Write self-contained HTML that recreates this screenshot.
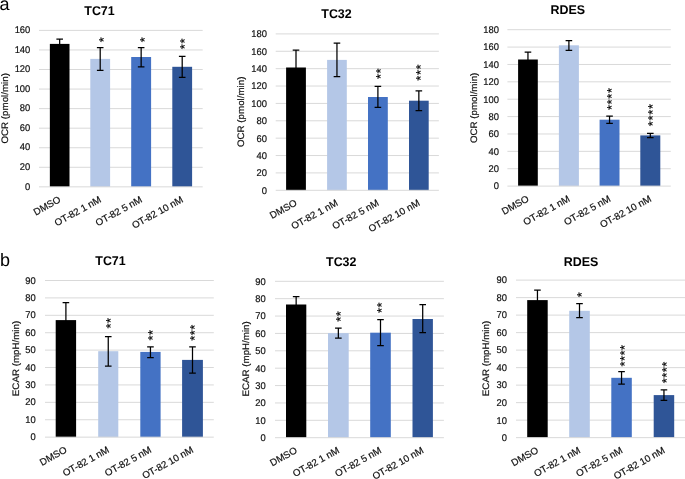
<!DOCTYPE html>
<html lang="en"><head><meta charset="utf-8"><title>OCR and ECAR charts</title>
<style>html,body{margin:0;padding:0;background:#fff;}body{width:685px;height:479px;overflow:hidden;}svg{display:block;}svg{text-rendering:geometricPrecision;}text{font-family:"Liberation Sans",Arial,Helvetica,sans-serif;fill:#111;}.tk{font-size:9.75px;stroke:#111;stroke-width:0.2;}.ax{font-size:9.75px;stroke:#111;stroke-width:0.2;}.tt{font-size:12.7px;font-weight:bold;fill:#000;}.pl{font-size:18px;fill:#000;}.as{font-size:12.8px;fill:#000;stroke:#000;stroke-width:0.2;}.eb{stroke:#000;stroke-width:1.25;fill:none;}.gl{stroke:#D9D9D9;stroke-width:1;}</style></head><body>
<svg width="685" height="479" viewBox="0 0 685 479">
<rect width="685" height="479" fill="#fff"/>
<text class="pl" x="-0.6" y="9.7">a</text>
<text class="pl" x="-0.1" y="265.6">b</text>
<g>
<text class="tk" text-anchor="end" transform="translate(30.30 189.60) scale(0.962 1)">0</text>
<line class="gl" x1="39.00" y1="167.29" x2="202.70" y2="167.29"/>
<text class="tk" text-anchor="end" transform="translate(30.30 170.05) scale(0.962 1)">20</text>
<line class="gl" x1="39.00" y1="147.74" x2="202.70" y2="147.74"/>
<text class="tk" text-anchor="end" transform="translate(30.30 150.49) scale(0.962 1)">40</text>
<line class="gl" x1="39.00" y1="128.18" x2="202.70" y2="128.18"/>
<text class="tk" text-anchor="end" transform="translate(30.30 130.94) scale(0.962 1)">60</text>
<line class="gl" x1="39.00" y1="108.62" x2="202.70" y2="108.62"/>
<text class="tk" text-anchor="end" transform="translate(30.30 111.38) scale(0.962 1)">80</text>
<line class="gl" x1="39.00" y1="89.07" x2="202.70" y2="89.07"/>
<text class="tk" text-anchor="end" transform="translate(30.30 91.82) scale(0.962 1)">100</text>
<line class="gl" x1="39.00" y1="69.51" x2="202.70" y2="69.51"/>
<text class="tk" text-anchor="end" transform="translate(30.30 72.27) scale(0.962 1)">120</text>
<line class="gl" x1="39.00" y1="49.96" x2="202.70" y2="49.96"/>
<text class="tk" text-anchor="end" transform="translate(30.30 52.71) scale(0.962 1)">140</text>
<line class="gl" x1="39.00" y1="30.40" x2="202.70" y2="30.40"/>
<text class="tk" text-anchor="end" transform="translate(30.30 33.15) scale(0.962 1)">160</text>
<text class="tt" text-anchor="middle" transform="translate(99.50 14.90) scale(0.98 1)">TC71</text>
<text class="ax" text-anchor="middle" transform="translate(8.20 108.30) scale(0.962 1) rotate(-90)">OCR (pmol/min)</text>
<rect x="49.85" y="43.90" width="19.65" height="142.95" fill="#000000"/>
<path class="eb" d="M59.67 39.20V48.60M56.38 39.20H62.97M56.38 48.60H62.97"/>
<text class="tk" text-anchor="end" transform="translate(61.38 201.45) rotate(-29)">DMSO</text>
<rect x="90.30" y="58.90" width="19.80" height="127.95" fill="#B4C7E7"/>
<path class="eb" d="M100.20 47.50V70.30M96.90 47.50H103.50M96.90 70.30H103.50"/>
<text class="as" style="letter-spacing:0.72px" transform="translate(107.86 42.30) rotate(-90)">*</text>
<text class="tk" text-anchor="end" transform="translate(101.90 201.45) rotate(-29)">OT-82 1 nM</text>
<rect x="131.20" y="57.00" width="19.90" height="129.85" fill="#4472C4"/>
<path class="eb" d="M141.15 47.50V66.80M137.85 47.50H144.45M137.85 66.80H144.45"/>
<text class="as" style="letter-spacing:0.72px" transform="translate(148.86 42.30) rotate(-90)">*</text>
<text class="tk" text-anchor="end" transform="translate(142.85 201.45) rotate(-29)">OT-82 5 nM</text>
<rect x="172.30" y="66.80" width="19.80" height="120.05" fill="#2F5597"/>
<path class="eb" d="M182.20 56.30V77.30M178.90 56.30H185.50M178.90 77.30H185.50"/>
<text class="as" style="letter-spacing:0.72px" transform="translate(188.96 49.30) rotate(-90)">**</text>
<text class="tk" text-anchor="end" transform="translate(183.90 201.45) rotate(-29)">OT-82 10 nM</text>
<line class="gl" x1="39.00" y1="186.85" x2="202.70" y2="186.85"/>
</g>
<g>
<text class="tk" text-anchor="end" transform="translate(267.00 193.65) scale(0.962 1)">0</text>
<line class="gl" x1="275.70" y1="172.92" x2="438.90" y2="172.92"/>
<text class="tk" text-anchor="end" transform="translate(267.00 176.28) scale(0.962 1)">20</text>
<line class="gl" x1="275.70" y1="155.54" x2="438.90" y2="155.54"/>
<text class="tk" text-anchor="end" transform="translate(267.00 158.90) scale(0.962 1)">40</text>
<line class="gl" x1="275.70" y1="138.17" x2="438.90" y2="138.17"/>
<text class="tk" text-anchor="end" transform="translate(267.00 141.52) scale(0.962 1)">60</text>
<line class="gl" x1="275.70" y1="120.79" x2="438.90" y2="120.79"/>
<text class="tk" text-anchor="end" transform="translate(267.00 124.14) scale(0.962 1)">80</text>
<line class="gl" x1="275.70" y1="103.41" x2="438.90" y2="103.41"/>
<text class="tk" text-anchor="end" transform="translate(267.00 106.77) scale(0.962 1)">100</text>
<line class="gl" x1="275.70" y1="86.03" x2="438.90" y2="86.03"/>
<text class="tk" text-anchor="end" transform="translate(267.00 89.39) scale(0.962 1)">120</text>
<line class="gl" x1="275.70" y1="68.66" x2="438.90" y2="68.66"/>
<text class="tk" text-anchor="end" transform="translate(267.00 72.01) scale(0.962 1)">140</text>
<line class="gl" x1="275.70" y1="51.28" x2="438.90" y2="51.28"/>
<text class="tk" text-anchor="end" transform="translate(267.00 54.63) scale(0.962 1)">160</text>
<line class="gl" x1="275.70" y1="33.90" x2="438.90" y2="33.90"/>
<text class="tk" text-anchor="end" transform="translate(267.00 37.25) scale(0.962 1)">180</text>
<text class="tt" text-anchor="middle" transform="translate(336.50 18.30) scale(0.98 1)">TC32</text>
<text class="ax" text-anchor="middle" transform="translate(244.20 111.80) scale(0.962 1) rotate(-90)">OCR (pmol/min)</text>
<rect x="286.10" y="67.50" width="19.80" height="122.80" fill="#000000"/>
<path class="eb" d="M296.00 50.10V84.90M292.70 50.10H299.30M292.70 84.90H299.30"/>
<text class="tk" text-anchor="end" transform="translate(297.70 204.90) rotate(-29)">DMSO</text>
<rect x="327.10" y="59.90" width="19.70" height="130.40" fill="#B4C7E7"/>
<path class="eb" d="M336.95 43.10V76.70M333.65 43.10H340.25M333.65 76.70H340.25"/>
<text class="tk" text-anchor="end" transform="translate(338.65 204.90) rotate(-29)">OT-82 1 nM</text>
<rect x="368.00" y="97.00" width="19.80" height="93.30" fill="#4472C4"/>
<path class="eb" d="M377.90 86.30V107.30M374.60 86.30H381.20M374.60 107.30H381.20"/>
<text class="as" style="letter-spacing:0.72px" transform="translate(385.26 79.10) rotate(-90)">**</text>
<text class="tk" text-anchor="end" transform="translate(379.60 204.90) rotate(-29)">OT-82 5 nM</text>
<rect x="409.00" y="100.70" width="19.70" height="89.60" fill="#2F5597"/>
<path class="eb" d="M418.85 90.90V110.50M415.55 90.90H422.15M415.55 110.50H422.15"/>
<text class="as" style="letter-spacing:0.72px" transform="translate(425.46 80.80) rotate(-90)">***</text>
<text class="tk" text-anchor="end" transform="translate(420.55 204.90) rotate(-29)">OT-82 10 nM</text>
<line class="gl" x1="275.70" y1="190.30" x2="438.90" y2="190.30"/>
</g>
<g>
<text class="tk" text-anchor="end" transform="translate(499.00 189.45) scale(0.962 1)">0</text>
<line class="gl" x1="507.40" y1="168.72" x2="670.80" y2="168.72"/>
<text class="tk" text-anchor="end" transform="translate(499.00 172.08) scale(0.962 1)">20</text>
<line class="gl" x1="507.40" y1="151.34" x2="670.80" y2="151.34"/>
<text class="tk" text-anchor="end" transform="translate(499.00 154.70) scale(0.962 1)">40</text>
<line class="gl" x1="507.40" y1="133.97" x2="670.80" y2="133.97"/>
<text class="tk" text-anchor="end" transform="translate(499.00 137.32) scale(0.962 1)">60</text>
<line class="gl" x1="507.40" y1="116.59" x2="670.80" y2="116.59"/>
<text class="tk" text-anchor="end" transform="translate(499.00 119.94) scale(0.962 1)">80</text>
<line class="gl" x1="507.40" y1="99.21" x2="670.80" y2="99.21"/>
<text class="tk" text-anchor="end" transform="translate(499.00 102.57) scale(0.962 1)">100</text>
<line class="gl" x1="507.40" y1="81.83" x2="670.80" y2="81.83"/>
<text class="tk" text-anchor="end" transform="translate(499.00 85.19) scale(0.962 1)">120</text>
<line class="gl" x1="507.40" y1="64.46" x2="670.80" y2="64.46"/>
<text class="tk" text-anchor="end" transform="translate(499.00 67.81) scale(0.962 1)">140</text>
<line class="gl" x1="507.40" y1="47.08" x2="670.80" y2="47.08"/>
<text class="tk" text-anchor="end" transform="translate(499.00 50.43) scale(0.962 1)">160</text>
<line class="gl" x1="507.40" y1="29.70" x2="670.80" y2="29.70"/>
<text class="tk" text-anchor="end" transform="translate(499.00 33.05) scale(0.962 1)">180</text>
<text class="tt" text-anchor="middle" transform="translate(567.85 14.20) scale(0.98 1)">RDES</text>
<text class="ax" text-anchor="middle" transform="translate(476.80 107.90) scale(0.962 1) rotate(-90)">OCR (pmol/min)</text>
<rect x="518.10" y="59.50" width="19.70" height="126.60" fill="#000000"/>
<path class="eb" d="M527.95 52.20V66.80M524.65 52.20H531.25M524.65 66.80H531.25"/>
<text class="tk" text-anchor="end" transform="translate(529.65 200.70) rotate(-29)">DMSO</text>
<rect x="558.90" y="45.30" width="20.00" height="140.80" fill="#B4C7E7"/>
<path class="eb" d="M568.90 40.50V50.40M565.60 40.50H572.20M565.60 50.40H572.20"/>
<text class="tk" text-anchor="end" transform="translate(570.60 200.70) rotate(-29)">OT-82 1 nM</text>
<rect x="599.60" y="119.70" width="19.90" height="66.40" fill="#4472C4"/>
<path class="eb" d="M609.55 116.00V123.40M606.25 116.00H612.85M606.25 123.40H612.85"/>
<text class="as" style="letter-spacing:0.72px" transform="translate(616.46 110.10) rotate(-90)">****</text>
<text class="tk" text-anchor="end" transform="translate(611.25 200.70) rotate(-29)">OT-82 5 nM</text>
<rect x="640.30" y="135.40" width="20.00" height="50.70" fill="#2F5597"/>
<path class="eb" d="M650.30 133.30V137.50M647.00 133.30H653.60M647.00 137.50H653.60"/>
<text class="as" style="letter-spacing:0.72px" transform="translate(657.16 126.20) rotate(-90)">****</text>
<text class="tk" text-anchor="end" transform="translate(652.00 200.70) rotate(-29)">OT-82 10 nM</text>
<line class="gl" x1="507.40" y1="186.10" x2="670.80" y2="186.10"/>
</g>
<g>
<text class="tk" text-anchor="end" transform="translate(35.80 440.20) scale(0.962 1)">0</text>
<line class="gl" x1="45.00" y1="419.74" x2="213.80" y2="419.74"/>
<text class="tk" text-anchor="end" transform="translate(35.80 422.80) scale(0.962 1)">10</text>
<line class="gl" x1="45.00" y1="402.34" x2="213.80" y2="402.34"/>
<text class="tk" text-anchor="end" transform="translate(35.80 405.39) scale(0.962 1)">20</text>
<line class="gl" x1="45.00" y1="384.93" x2="213.80" y2="384.93"/>
<text class="tk" text-anchor="end" transform="translate(35.80 387.99) scale(0.962 1)">30</text>
<line class="gl" x1="45.00" y1="367.53" x2="213.80" y2="367.53"/>
<text class="tk" text-anchor="end" transform="translate(35.80 370.58) scale(0.962 1)">40</text>
<line class="gl" x1="45.00" y1="350.12" x2="213.80" y2="350.12"/>
<text class="tk" text-anchor="end" transform="translate(35.80 353.18) scale(0.962 1)">50</text>
<line class="gl" x1="45.00" y1="332.72" x2="213.80" y2="332.72"/>
<text class="tk" text-anchor="end" transform="translate(35.80 335.77) scale(0.962 1)">60</text>
<line class="gl" x1="45.00" y1="315.31" x2="213.80" y2="315.31"/>
<text class="tk" text-anchor="end" transform="translate(35.80 318.37) scale(0.962 1)">70</text>
<line class="gl" x1="45.00" y1="297.91" x2="213.80" y2="297.91"/>
<text class="tk" text-anchor="end" transform="translate(35.80 300.96) scale(0.962 1)">80</text>
<line class="gl" x1="45.00" y1="280.50" x2="213.80" y2="280.50"/>
<text class="tk" text-anchor="end" transform="translate(35.80 283.55) scale(0.962 1)">90</text>
<text class="tt" text-anchor="middle" transform="translate(110.50 265.10) scale(0.98 1)">TC71</text>
<text class="ax" text-anchor="middle" transform="translate(19.00 358.50) scale(0.962 1) rotate(-90)">ECAR (mpH/min)</text>
<rect x="55.70" y="320.10" width="20.40" height="117.05" fill="#000000"/>
<path class="eb" d="M65.90 302.50V337.70M62.60 302.50H69.20M62.60 337.70H69.20"/>
<text class="tk" text-anchor="end" transform="translate(67.60 451.75) rotate(-29)">DMSO</text>
<rect x="98.20" y="351.20" width="20.10" height="85.95" fill="#B4C7E7"/>
<path class="eb" d="M108.25 336.50V366.10M104.95 336.50H111.55M104.95 366.10H111.55"/>
<text class="as" style="letter-spacing:0.52px" transform="translate(115.26 328.50) rotate(-90)">**</text>
<text class="tk" text-anchor="end" transform="translate(109.95 451.75) rotate(-29)">OT-82 1 nM</text>
<rect x="140.30" y="351.90" width="20.30" height="85.25" fill="#4472C4"/>
<path class="eb" d="M150.45 346.80V357.50M147.15 346.80H153.75M147.15 357.50H153.75"/>
<text class="as" style="letter-spacing:0.52px" transform="translate(157.36 340.50) rotate(-90)">**</text>
<text class="tk" text-anchor="end" transform="translate(152.15 451.75) rotate(-29)">OT-82 5 nM</text>
<rect x="182.10" y="359.90" width="20.80" height="77.25" fill="#2F5597"/>
<path class="eb" d="M192.50 346.80V373.00M189.20 346.80H195.80M189.20 373.00H195.80"/>
<text class="as" style="letter-spacing:0.52px" transform="translate(199.16 340.80) rotate(-90)">***</text>
<text class="tk" text-anchor="end" transform="translate(194.20 451.75) rotate(-29)">OT-82 10 nM</text>
<line class="gl" x1="45.00" y1="437.15" x2="213.80" y2="437.15"/>
</g>
<g>
<text class="tk" text-anchor="end" transform="translate(265.80 441.05) scale(0.962 1)">0</text>
<line class="gl" x1="275.00" y1="420.32" x2="443.90" y2="420.32"/>
<text class="tk" text-anchor="end" transform="translate(265.80 423.68) scale(0.962 1)">10</text>
<line class="gl" x1="275.00" y1="402.94" x2="443.90" y2="402.94"/>
<text class="tk" text-anchor="end" transform="translate(265.80 406.30) scale(0.962 1)">20</text>
<line class="gl" x1="275.00" y1="385.57" x2="443.90" y2="385.57"/>
<text class="tk" text-anchor="end" transform="translate(265.80 388.92) scale(0.962 1)">30</text>
<line class="gl" x1="275.00" y1="368.19" x2="443.90" y2="368.19"/>
<text class="tk" text-anchor="end" transform="translate(265.80 371.54) scale(0.962 1)">40</text>
<line class="gl" x1="275.00" y1="350.81" x2="443.90" y2="350.81"/>
<text class="tk" text-anchor="end" transform="translate(265.80 354.17) scale(0.962 1)">50</text>
<line class="gl" x1="275.00" y1="333.43" x2="443.90" y2="333.43"/>
<text class="tk" text-anchor="end" transform="translate(265.80 336.79) scale(0.962 1)">60</text>
<line class="gl" x1="275.00" y1="316.06" x2="443.90" y2="316.06"/>
<text class="tk" text-anchor="end" transform="translate(265.80 319.41) scale(0.962 1)">70</text>
<line class="gl" x1="275.00" y1="298.68" x2="443.90" y2="298.68"/>
<text class="tk" text-anchor="end" transform="translate(265.80 302.03) scale(0.962 1)">80</text>
<line class="gl" x1="275.00" y1="281.30" x2="443.90" y2="281.30"/>
<text class="tk" text-anchor="end" transform="translate(265.80 284.65) scale(0.962 1)">90</text>
<text class="tt" text-anchor="middle" transform="translate(341.25 266.20) scale(0.98 1)">TC32</text>
<text class="ax" text-anchor="middle" transform="translate(249.00 358.90) scale(0.962 1) rotate(-90)">ECAR (mpH/min)</text>
<rect x="286.00" y="304.50" width="20.30" height="133.20" fill="#000000"/>
<path class="eb" d="M296.15 296.50V312.50M292.85 296.50H299.45M292.85 312.50H299.45"/>
<text class="tk" text-anchor="end" transform="translate(297.85 452.30) rotate(-29)">DMSO</text>
<rect x="328.00" y="333.10" width="20.70" height="104.60" fill="#B4C7E7"/>
<path class="eb" d="M338.35 328.00V338.20M335.05 328.00H341.65M335.05 338.20H341.65"/>
<text class="as" style="letter-spacing:0.52px" transform="translate(344.66 321.70) rotate(-90)">**</text>
<text class="tk" text-anchor="end" transform="translate(340.05 452.30) rotate(-29)">OT-82 1 nM</text>
<rect x="370.20" y="332.70" width="20.60" height="105.00" fill="#4472C4"/>
<path class="eb" d="M380.50 319.50V345.60M377.20 319.50H383.80M377.20 345.60H383.80"/>
<text class="as" style="letter-spacing:0.52px" transform="translate(386.46 313.10) rotate(-90)">**</text>
<text class="tk" text-anchor="end" transform="translate(382.20 452.30) rotate(-29)">OT-82 5 nM</text>
<rect x="412.50" y="319.00" width="20.40" height="118.70" fill="#2F5597"/>
<path class="eb" d="M422.70 304.60V332.60M419.40 304.60H426.00M419.40 332.60H426.00"/>
<text class="tk" text-anchor="end" transform="translate(424.40 452.30) rotate(-29)">OT-82 10 nM</text>
<line class="gl" x1="275.00" y1="437.70" x2="443.90" y2="437.70"/>
</g>
<g>
<text class="tk" text-anchor="end" transform="translate(506.90 441.00) scale(0.962 1)">0</text>
<line class="gl" x1="516.00" y1="420.14" x2="686.00" y2="420.14"/>
<text class="tk" text-anchor="end" transform="translate(506.90 423.50) scale(0.962 1)">10</text>
<line class="gl" x1="516.00" y1="402.64" x2="686.00" y2="402.64"/>
<text class="tk" text-anchor="end" transform="translate(506.90 405.99) scale(0.962 1)">20</text>
<line class="gl" x1="516.00" y1="385.13" x2="686.00" y2="385.13"/>
<text class="tk" text-anchor="end" transform="translate(506.90 388.49) scale(0.962 1)">30</text>
<line class="gl" x1="516.00" y1="367.63" x2="686.00" y2="367.63"/>
<text class="tk" text-anchor="end" transform="translate(506.90 370.98) scale(0.962 1)">40</text>
<line class="gl" x1="516.00" y1="350.12" x2="686.00" y2="350.12"/>
<text class="tk" text-anchor="end" transform="translate(506.90 353.48) scale(0.962 1)">50</text>
<line class="gl" x1="516.00" y1="332.62" x2="686.00" y2="332.62"/>
<text class="tk" text-anchor="end" transform="translate(506.90 335.97) scale(0.962 1)">60</text>
<line class="gl" x1="516.00" y1="315.11" x2="686.00" y2="315.11"/>
<text class="tk" text-anchor="end" transform="translate(506.90 318.47) scale(0.962 1)">70</text>
<line class="gl" x1="516.00" y1="297.61" x2="686.00" y2="297.61"/>
<text class="tk" text-anchor="end" transform="translate(506.90 300.96) scale(0.962 1)">80</text>
<line class="gl" x1="516.00" y1="280.10" x2="686.00" y2="280.10"/>
<text class="tk" text-anchor="end" transform="translate(506.90 283.45) scale(0.962 1)">90</text>
<text class="tt" text-anchor="middle" transform="translate(580.95 266.20) scale(0.98 1)">RDES</text>
<text class="ax" text-anchor="middle" transform="translate(489.00 358.50) scale(0.962 1) rotate(-90)">ECAR (mpH/min)</text>
<rect x="527.20" y="300.10" width="20.50" height="137.55" fill="#000000"/>
<path class="eb" d="M537.45 290.00V310.20M534.15 290.00H540.75M534.15 310.20H540.75"/>
<text class="tk" text-anchor="end" transform="translate(539.15 452.25) rotate(-29)">DMSO</text>
<rect x="569.20" y="310.80" width="20.60" height="126.85" fill="#B4C7E7"/>
<path class="eb" d="M579.50 303.50V317.50M576.20 303.50H582.80M576.20 317.50H582.80"/>
<text class="as" style="letter-spacing:0.52px" transform="translate(585.66 297.20) rotate(-90)">*</text>
<text class="tk" text-anchor="end" transform="translate(581.20 452.25) rotate(-29)">OT-82 1 nM</text>
<rect x="611.30" y="377.80" width="20.50" height="59.85" fill="#4472C4"/>
<path class="eb" d="M621.55 371.70V384.10M618.25 371.70H624.85M618.25 384.10H624.85"/>
<text class="as" style="letter-spacing:0.52px" transform="translate(628.56 366.40) rotate(-90)">****</text>
<text class="tk" text-anchor="end" transform="translate(623.25 452.25) rotate(-29)">OT-82 5 nM</text>
<rect x="653.70" y="395.10" width="20.50" height="42.55" fill="#2F5597"/>
<path class="eb" d="M663.95 389.90V400.30M660.65 389.90H667.25M660.65 400.30H667.25"/>
<text class="as" style="letter-spacing:0.52px" transform="translate(671.26 383.20) rotate(-90)">****</text>
<text class="tk" text-anchor="end" transform="translate(665.65 452.25) rotate(-29)">OT-82 10 nM</text>
<line class="gl" x1="516.00" y1="437.65" x2="686.00" y2="437.65"/>
</g>
</svg></body></html>
